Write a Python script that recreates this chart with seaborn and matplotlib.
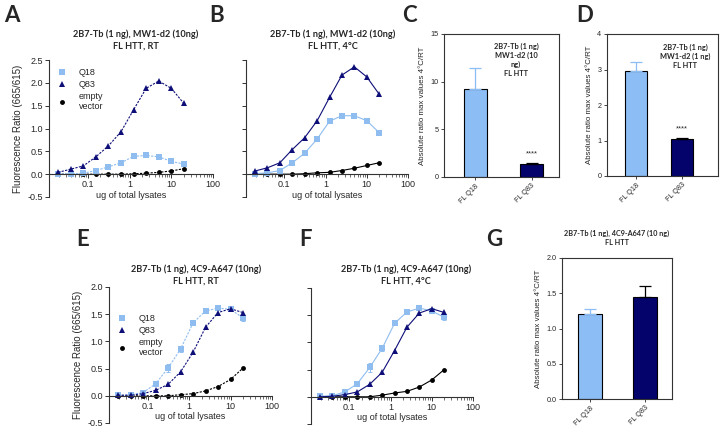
import numpy as np
import matplotlib
matplotlib.use("Agg")
import matplotlib.pyplot as plt
from matplotlib.lines import Line2D
from matplotlib.ticker import LogLocator, NullFormatter
import seaborn as sns

sns.set_style("ticks")
plt.rcParams["font.family"] = ["Liberation Sans", "DejaVu Sans"]

# lysate amounts (ug), 2-fold dilution series
lysate_ug = [0.0195, 0.039, 0.078, 0.156, 0.3125, 0.625, 1.25, 2.5, 5, 10, 20]

# A: 2B7-Tb / MW1-d2, RT
a_q18 = [0.0, 0.01, 0.02, 0.08, 0.16, 0.25, 0.39, 0.41, 0.38, 0.28, 0.22]
a_q83 = [0.04, 0.11, 0.18, 0.38, 0.62, 0.93, 1.41, 1.88, 2.04, 1.88, 1.55]
a_empty = [0.0, 0.0, 0.0, 0.0, 0.0, 0.0, 0.01, 0.02, 0.04, 0.07, 0.12]

# B: 2B7-Tb / MW1-d2, 4C
b_q18 = [0.01, 0.03, 0.08, 0.25, 0.46, 0.77, 1.16, 1.28, 1.28, 1.17, 0.91]
b_q83 = [0.07, 0.14, 0.25, 0.54, 0.80, 1.17, 1.68, 2.17, 2.35, 2.13, 1.75]
b_empty = [0.0, 0.0, 0.0, 0.0, 0.01, 0.03, 0.04, 0.08, 0.13, 0.19, 0.25]

# E: 2B7-Tb / 4C9-A647, RT
e_q18 = [0.01, 0.02, 0.06, 0.22, 0.51, 0.86, 1.34, 1.56, 1.61, 1.59, 1.43]
e_q18_err = [0.0, 0.0, 0.01, 0.02, 0.08, 0.05, 0.02, 0.01, 0.02, 0.02, 0.05]
e_q83 = [0.01, 0.01, 0.04, 0.10, 0.21, 0.44, 0.80, 1.26, 1.53, 1.60, 1.53]
e_empty = [0.0, 0.0, 0.0, 0.0, 0.0, 0.02, 0.04, 0.09, 0.17, 0.30, 0.51]

# F: 2B7-Tb / 4C9-A647, 4C
f_q18 = [0.01, 0.02, 0.09, 0.24, 0.54, 0.89, 1.35, 1.56, 1.63, 1.58, 1.46]
f_q18_err = [0.0, 0.0, 0.01, 0.02, 0.08, 0.05, 0.02, 0.01, 0.02, 0.02, 0.05]
f_q83 = [0.0, 0.01, 0.04, 0.09, 0.23, 0.45, 0.85, 1.28, 1.54, 1.62, 1.55]
f_empty = [0.0, 0.0, 0.0, 0.0, 0.0, 0.03, 0.07, 0.10, 0.18, 0.31, 0.50]

# bar panels: max ratio 4C/RT
bar_labels = ["FL Q18", "FL Q83"]
c_vals = [9.2, 1.33]
c_err = [2.2, 0.1]
d_vals = [2.96, 1.03]
d_err = [0.26, 0.03]
g_vals = [1.21, 1.45]
g_err = [0.07, 0.15]

x_ticks = [0.1, 1, 10, 100]
x_ticklabels = ["0.1", "1", "10", "100"]
legend_labels = ["Q18", "Q83", "empty\nvector"]

col_q18 = "#8FBDF0"
col_q83 = "#0E0E78"
col_empty = "black"
bar_q18 = "#8CBDF4"
bar_q83 = "#03036B"

W, H = 723, 430
fig = plt.figure(figsize=(W / 100, H / 100), dpi=100)
title_font = ["Lato", "DejaVu Sans"]


def px_axes(l, t, r, b):
    return fig.add_axes([l / W, 1 - b / H, (r - l) / W, (b - t) / H])


def px_text(x, y, s, **kw):
    fig.text(x / W, 1 - y / H, s, **kw)


def curve_panel(ax, q18, q83, empty, ls, ymax, q18_err=None, ylabels=True, legend_at=None):
    ax.set_xscale("log")
    sns.lineplot(x=lysate_ug, y=empty, ax=ax, color=col_empty, linestyle=ls, lw=0.8,
                 marker="o", markersize=3.5, markeredgewidth=0)
    sns.lineplot(x=lysate_ug, y=q18, ax=ax, color=col_q18, linestyle=ls, lw=0.8,
                 marker="s", markersize=4, markeredgewidth=0)
    if q18_err is not None:
        ax.errorbar(lysate_ug, q18, yerr=q18_err, fmt="none", ecolor=col_q18,
                    elinewidth=0.7, capsize=1.5, capthick=0.7)
    sns.lineplot(x=lysate_ug, y=q83, ax=ax, color=col_q83, linestyle=ls, lw=0.8,
                 marker="^", markersize=4.2, markeredgewidth=0)
    ax.set_xlim(10 ** -1.93, 100)
    ax.set_ylim(-0.5, ymax)
    ax.spines["top"].set_visible(False)
    ax.spines["right"].set_visible(False)
    ax.spines["bottom"].set_position(("data", 0))
    ax.spines["left"].set_bounds(-0.5, ymax)
    for s in ("left", "bottom"):
        ax.spines[s].set_linewidth(0.8)
        ax.spines[s].set_color("#333333")
    ax.set_xticks(x_ticks)
    ax.set_xticklabels(x_ticklabels)
    ax.xaxis.set_minor_locator(LogLocator(base=10, subs=np.arange(2, 10)))
    ax.xaxis.set_minor_formatter(NullFormatter())
    yt = np.arange(-0.5, ymax + 0.01, 0.5)
    ax.set_yticks(yt)
    if ylabels:
        ax.set_yticklabels([f"{v:.1f}" for v in yt])
        ax.set_ylabel("Fluorescence Ratio (665/615)", fontsize=7, labelpad=3)
    else:
        ax.set_yticklabels([])
        ax.set_ylabel("")
    ax.tick_params(axis="both", which="major", labelsize=6.5, length=3, width=0.7, pad=1.5,
                   color="#333333")
    ax.tick_params(axis="x", which="minor", length=1.8, width=0.5, color="#333333")
    ax.set_xlabel("ug of total lysates", fontsize=6.5, labelpad=1)
    if legend_at is not None:
        handles = [
            Line2D([], [], ls="", marker="s", color=col_q18, markersize=4, markeredgewidth=0),
            Line2D([], [], ls="", marker="^", color=col_q83, markersize=4.2, markeredgewidth=0),
            Line2D([], [], ls="", marker="o", color=col_empty, markersize=3.5, markeredgewidth=0),
        ]
        ax.legend(handles, legend_labels, loc="upper left", bbox_to_anchor=legend_at,
                  frameon=False, fontsize=6.5, handlelength=0.8, handletextpad=1.4,
                  labelspacing=0.3, borderaxespad=0.0, borderpad=0.0)
    else:
        leg = ax.get_legend()
        if leg is not None:
            leg.remove()


def bar_panel(ax, vals, err, ymax, ystep, width, xlim, stars=None):
    sns.barplot(x=bar_labels, y=vals, hue=bar_labels, palette=[bar_q18, bar_q83],
                legend=False, ax=ax, width=width, edgecolor="black", linewidth=0.8,
                saturation=1)
    for i, (v, e, c) in enumerate(zip(vals, err, [bar_q18, "black"])):
        ax.errorbar([i], [v], yerr=[[0], [e]], fmt="none", ecolor=c,
                    elinewidth=0.9, capsize=4.5, capthick=0.9)
    if stars is not None:
        ax.annotate(stars, xy=(1, vals[1] + err[1]), xytext=(0, 4),
                    textcoords="offset points", ha="center", va="bottom", fontsize=5.5)
    ax.set_xlim(*xlim)
    ax.set_ylim(0, ymax)
    ax.set_yticks(np.arange(0, ymax + 0.001, ystep))
    if ystep < 1:
        ax.set_yticklabels([f"{v:.1f}" for v in np.arange(0, ymax + 0.001, ystep)])
    for s in ax.spines.values():
        s.set_linewidth(0.8)
        s.set_color("#333333")
    ax.set_ylabel("Absolute ratio max values 4\u00b0C/RT", fontsize=5.7, labelpad=3)
    ax.set_xlabel("")
    ax.tick_params(axis="both", labelsize=5.2, length=2.5, width=0.6, pad=1.5)
    plt.setp(ax.get_xticklabels(), rotation=45, ha="right", rotation_mode="anchor")


# curve panels
ax_a = px_axes(49, 60, 213, 197)
curve_panel(ax_a, a_q18, a_q83, a_empty, (0, (2, 1.2)), 2.5, legend_at=(0.06, 0.94))
ax_b = px_axes(246, 60, 408, 197)
curve_panel(ax_b, b_q18, b_q83, b_empty, "-", 2.5, ylabels=False)
ax_e = px_axes(109, 287, 272, 423)
curve_panel(ax_e, e_q18, e_q83, e_empty, (0, (2, 1.2)), 2.0, q18_err=e_q18_err,
            legend_at=(0.06, 0.80))
ax_f = px_axes(311, 288, 473, 424)
curve_panel(ax_f, f_q18, f_q83, f_empty, "-", 2.0, q18_err=f_q18_err, ylabels=False)

# bar panels
ax_c = px_axes(444, 34, 559, 177)
bar_panel(ax_c, c_vals, c_err, 15, 5, 0.41, (-0.56, 1.49), stars="****")
ax_d = px_axes(607, 34, 718, 176)
bar_panel(ax_d, d_vals, d_err, 4, 1, 0.48, (-0.63, 1.78), stars="****")
ax_g = px_axes(562, 258, 672, 399)
bar_panel(ax_g, g_vals, g_err, 2.0, 0.5, 0.44, (-0.51, 1.49))

# titles
tkw = dict(ha="center", va="center", family=title_font, fontweight="bold", linespacing=1.45)
px_text(136, 40, "2B7-Tb (1 ng), MW1-d2 (10ng)\nFL HTT, RT", fontsize=6.6, **tkw)
px_text(333, 40, "2B7-Tb (1 ng), MW1-d2 (10ng)\nFL HTT, 4\u00b0C", fontsize=6.6, **tkw)
px_text(196, 275, "2B7-Tb (1 ng), 4C9-A647 (10ng)\nFL HTT, RT", fontsize=6.6, **tkw)
px_text(406, 275, "2B7-Tb (1 ng), 4C9-A647 (10ng)\nFL HTT, 4\u00b0C", fontsize=6.6, **tkw)
px_text(617, 238, "2B7-Tb (1 ng), 4C9-A647 (10 ng)\nFL HTT", fontsize=5.2, **tkw)
ikw = dict(ha="center", va="center", family=title_font, fontweight="bold", linespacing=1.3)
px_text(516, 60, "2B7-Tb (1 ng)\nMW1-d2 (10\nng)\nFL HTT", fontsize=5.3, **ikw)
px_text(685, 56, "2B7-Tb (1 ng)\nMW1-d2 (1 ng)\nFL HTT", fontsize=5.3, **ikw)

# panel letters
lkw = dict(ha="left", va="center", family=title_font, fontsize=16, fontweight="bold")
for letter, x, y in [("A", 4, 15), ("B", 209, 15), ("C", 402, 15), ("D", 576, 15),
                     ("E", 76, 240), ("F", 299, 240), ("G", 486, 240)]:
    px_text(x, y, letter, **lkw)

fig.savefig("out.png", dpi=100)
